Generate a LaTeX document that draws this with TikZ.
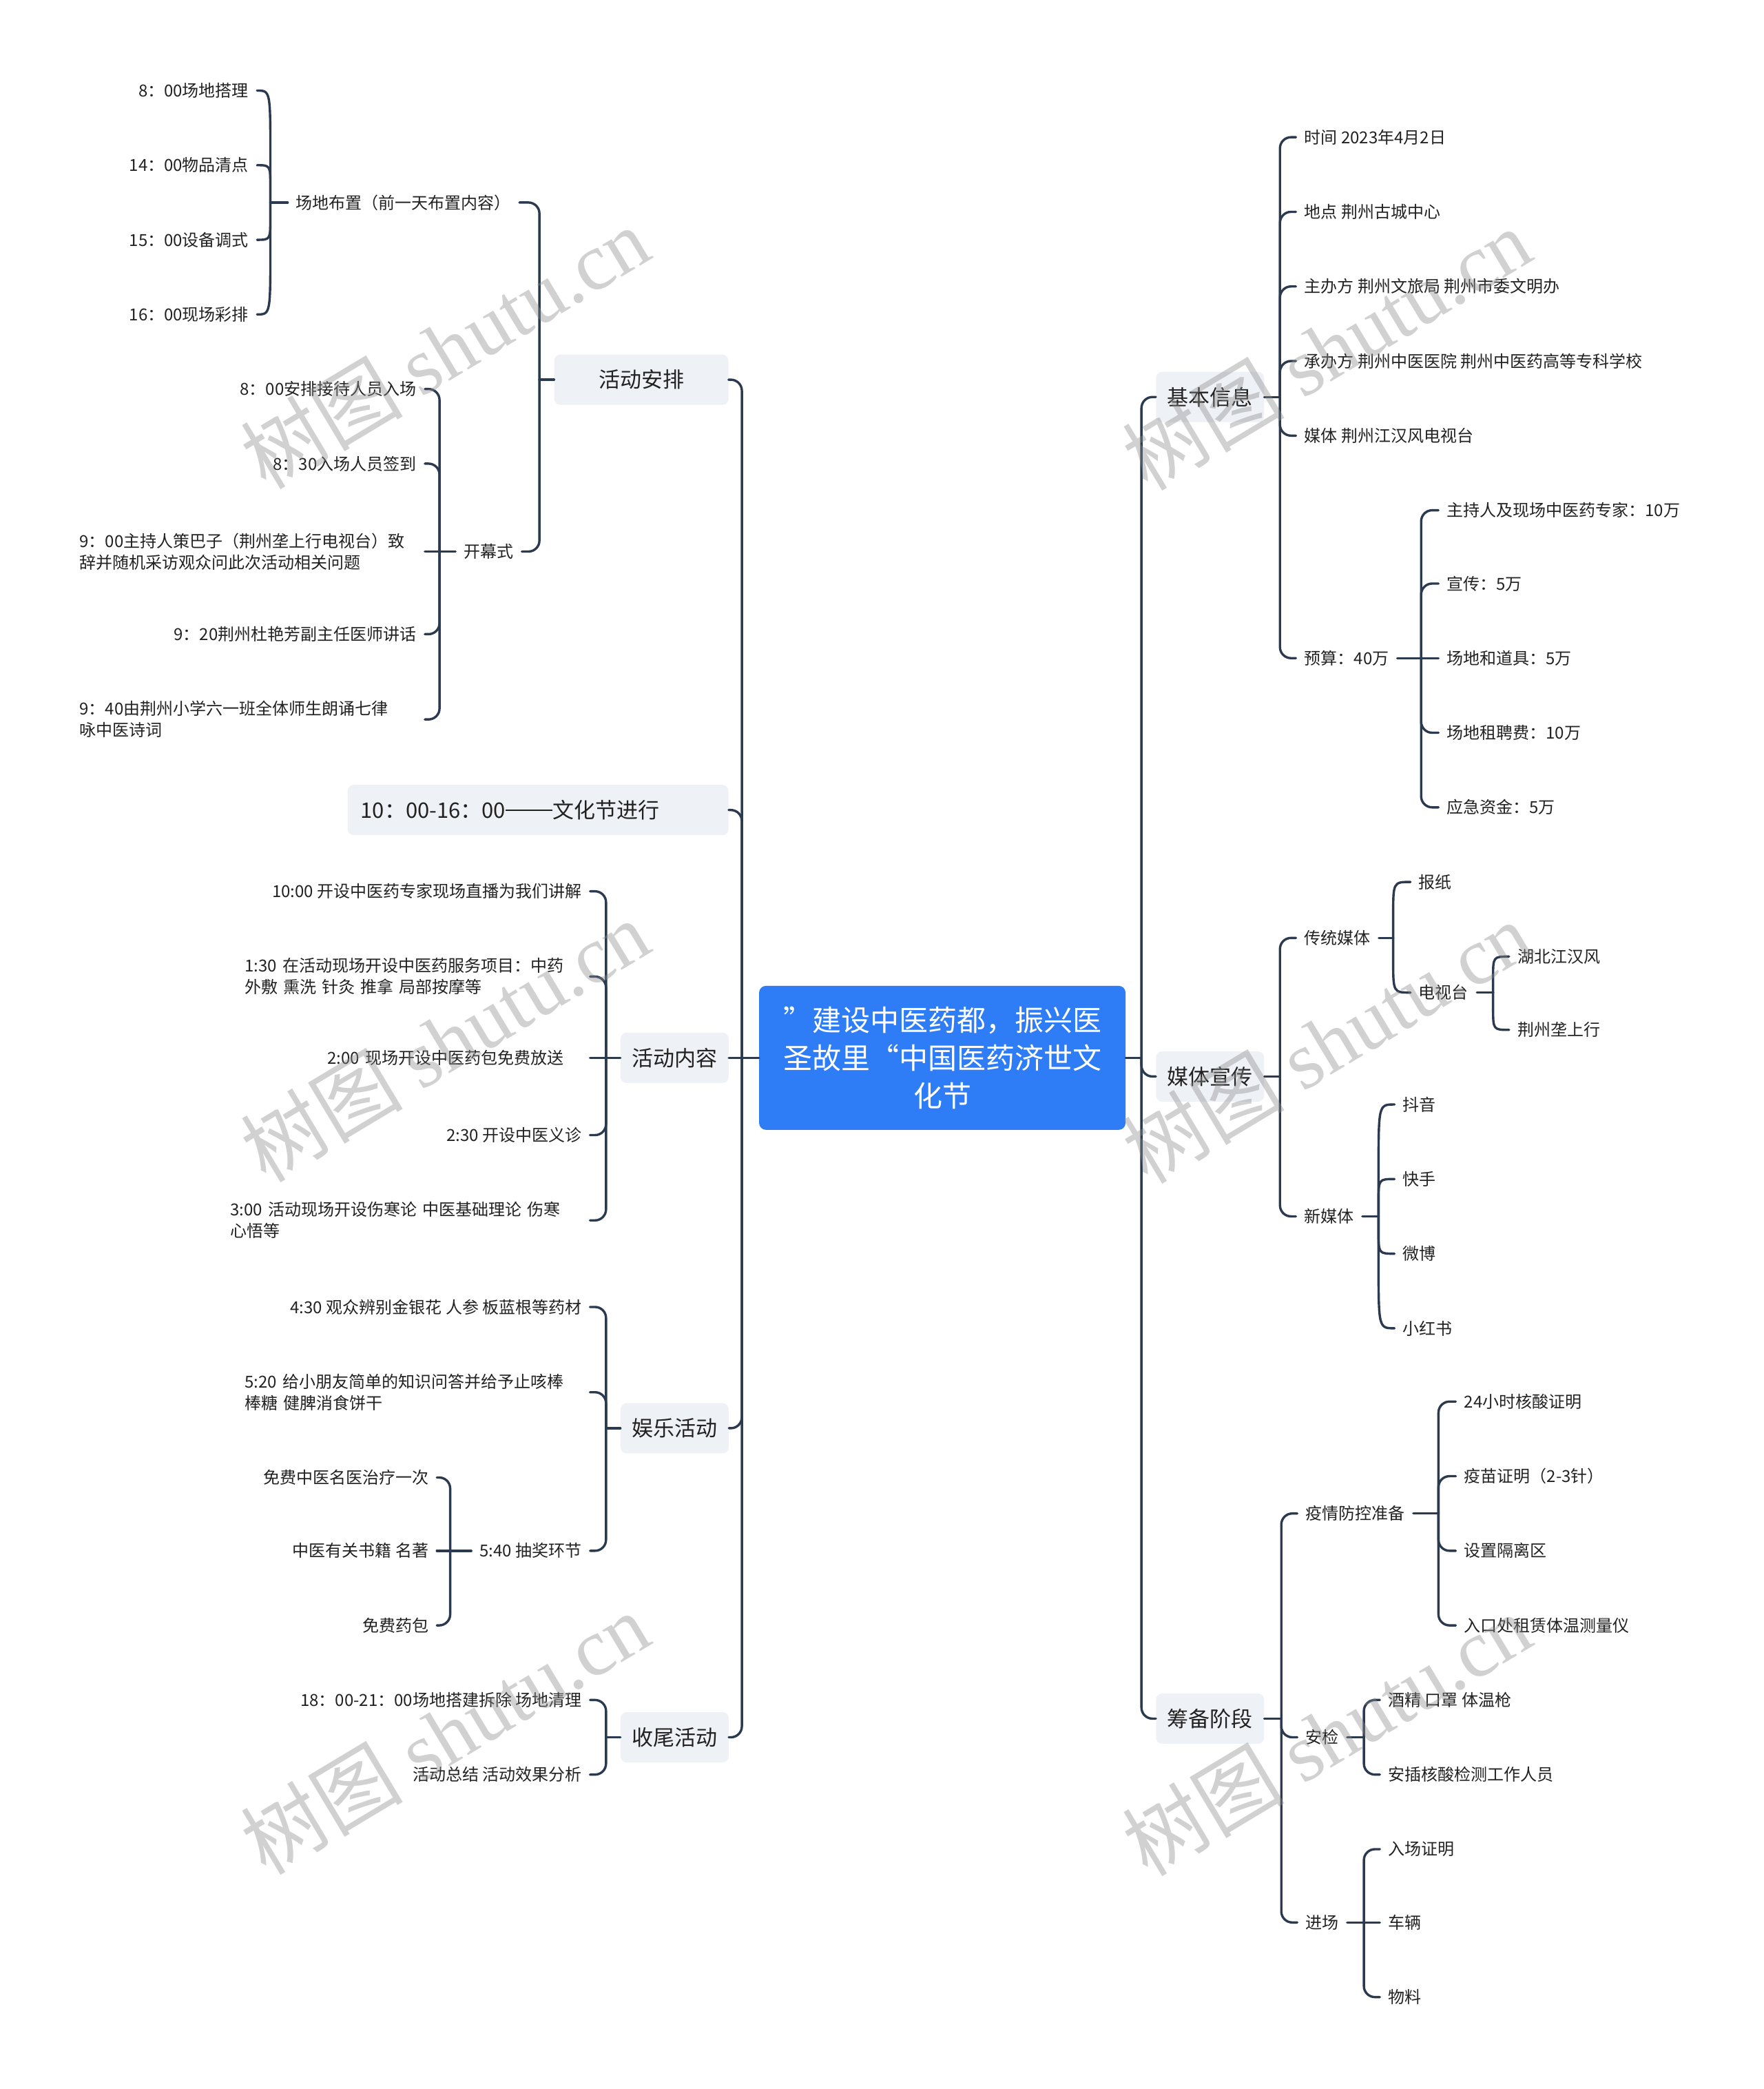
\documentclass[tikz,border=0pt]{standalone}
\usepackage{fontspec}
\usetikzlibrary{calc}
\setmainfont{Noto Sans CJK SC}
\newfontfamily\wmlatin{Liberation Serif}
\newcommand\fsleaf{\fontsize{24}{31}\selectfont}
\newcommand\fsone{\fontsize{31}{38}\selectfont}
\newcommand\fsroot{\fontsize{42}{55}\selectfont}
\newcommand\fswm{\fontsize{118}{130}\selectfont}
\definecolor{linec}{HTML}{2B3A4F}
\definecolor{boxc}{HTML}{EEF1F5}
\definecolor{rootc}{HTML}{2F7DF6}
\definecolor{textc}{HTML}{222222}
\definecolor{wmc}{HTML}{8C8C8C}
\tikzset{
  conn/.style={draw=linec, line width=3.4pt, line cap=round, line join=round},
  rnd/.style={rounded corners=16pt},
  leafbase/.style={inner xsep=12pt, inner ysep=2pt, font=\fsleaf, text=textc},
  leafL/.style={leafbase, anchor=east},
  leafR/.style={leafbase, anchor=west},
  multi/.style={align=left, text width=#1},
  lvone/.style={fill=boxc, rounded corners=9pt, minimum height=73pt, inner xsep=15pt, inner ysep=0pt, font=\fsone, text=textc},
  rootbox/.style={fill=rootc, rounded corners=10pt, minimum width=532pt, minimum height=209pt, text width=480pt, align=center, font=\fsroot, text=white, inner sep=0pt},
  wm/.style={text=wmc, opacity=0.4, rotate=31, font=\fswm, inner sep=0pt}
}
% curly bracket connector: from a junction point (#1) to a node anchor (#2)
\newcommand\curlyconn[2]{%
  \path (#1 |- #2) coordinate (ck);
  \draw[conn] (#1) -- ($(ck)!0.6!(#1)$) .. controls (ck) .. (#2);}
\begin{document}
\begin{tikzpicture}[x=1.9335pt,y=-1.9335pt]
\useasboundingbox (0,0) rectangle (1324,1568);
\fill[white] (0,0) rectangle (1324,1568);

% root
\node[rootbox] (root) at (707.5,794) {\makebox[1em][l]{”}建设中医药都，振兴医\\圣故里\makebox[1em][r]{“}中国医药济世文\\化节};

% level one, left
\node[lvone, minimum width=253pt] (A) at (481.5,285) {活动安排};
\node[lvone, text width=515pt, align=left, inner xsep=19pt] (B) at (404,608) {10：00-16：00\raisebox{0.34em}{\rule{2.2em}{1.6pt}}文化节进行};
\node[lvone, minimum width=157pt] (C) at (506.5,794) {活动内容};
\node[lvone, minimum width=157pt] (D) at (506.5,1072) {娱乐活动};
\node[lvone, minimum width=157pt] (E) at (506.5,1304) {收尾活动};
% level one, right
\node[lvone, minimum width=157pt] (F) at (908.5,298) {基本信息};
\node[lvone, minimum width=157pt] (G) at (908.5,808) {媒体宣传};
\node[lvone, minimum width=157pt] (H) at (908.5,1290) {筹备阶段};

% trunk
\coordinate (tl) at (557,794);
\coordinate (tr) at (857,794);
\draw[conn] (root.west) -- (tl);
\draw[conn] (root.east) -- (tr);
\draw[conn,rnd] (tl) |- (A.east);
\draw[conn,rnd] (tl) |- (B.east);
\draw[conn] (tl) -- (C.east);
\draw[conn,rnd] (tl) |- (D.east);
\draw[conn,rnd] (tl) |- (E.east);
\draw[conn,rnd] (tr) |- (F.west);
\draw[conn,rnd] (tr) |- (G.west);
\draw[conn,rnd] (tr) |- (H.west);

% ---- A: 活动安排
\node[leafR] (A1) at (216,152) {场地布置（前一天布置内容）};
\node[leafR] (A2) at (342,414) {开幕式};
\draw[conn] (A.west) -- (405,285) coordinate (bA);
\draw[conn,rnd] (bA) |- (A1.east);
\draw[conn,rnd] (bA) |- (A2.east);

\node[leafL] (a11) at (193,68) {8：00场地搭理};
\node[leafL] (a12) at (193,124) {14：00物品清点};
\node[leafL] (a13) at (193,180) {15：00设备调式};
\node[leafL] (a14) at (193,236) {16：00现场彩排};
\draw[conn] (A1.west) -- (203,152) coordinate (bA1);
\foreach \n in {a11,a12,a13,a14} {\curlyconn{bA1}{\n.east}}

\node[leafL] (a21) at (319,292) {8：00安排接待人员入场};
\node[leafL] (a22) at (319,348) {8：30入场人员签到};
\node[leafL, multi=489pt] (a23) at (319,414) {9：00主持人策巴子（荆州垄上行电视台）致\\辞并随机采访观众问此次活动相关问题};
\node[leafL] (a24) at (319,476) {9：20荆州杜艳芳副主任医师讲话};
\node[leafL, multi=489pt] (a25) at (319,540) {9：40由荆州小学六一班全体师生朗诵七律\\咏中医诗词};
\draw[conn] (A2.west) -- (330,414) coordinate (bA2);
\draw[conn,rnd] (bA2) |- (a21.east);
\draw[conn,rnd] (bA2) |- (a22.east);
\draw[conn] (bA2) -- (a23.east);
\draw[conn,rnd] (bA2) |- (a24.east);
\draw[conn,rnd] (bA2) |- (a25.east);

% ---- C: 活动内容
\node[leafL] (c1) at (443,669) {10:00 开设中医药专家现场直播为我们讲解};
\node[leafL, multi=489pt] (c2) at (443,733) {1:30~在活动现场开设中医药服务项目：中药\\外敷~熏洗~针灸~推拿~局部按摩等};
\node[leafL, multi=369pt] (c3) at (443,794) {2:00~现场开设中医药包免费放送};
\node[leafL] (c4) at (443,852) {2:30 开设中医义诊};
\node[leafL, multi=510pt] (c5) at (443,916) {3:00~活动现场开设伤寒论~中医基础理论~伤寒\\心悟等};
\draw[conn] (C.west) -- (455,794) coordinate (bC);
\draw[conn,rnd] (bC) |- (c1.east);
\draw[conn,rnd] (bC) |- (c2.east);
\draw[conn] (bC) -- (c3.east);
\draw[conn,rnd] (bC) |- (c4.east);
\draw[conn,rnd] (bC) |- (c5.east);

% ---- D: 娱乐活动
\node[leafL] (d1) at (443,981) {4:30 观众辨别金银花 人参 板蓝根等药材};
\node[leafL, multi=489pt] (d2) at (443,1045) {5:20~给小朋友简单的知识问答并给予止咳棒\\棒糖~健脾消食饼干};
\node[leafL] (d3) at (443,1164) {5:40 抽奖环节};
\draw[conn] (D.west) -- (455,1072) coordinate (bD);
\draw[conn,rnd] (bD) |- (d1.east);
\draw[conn,rnd] (bD) |- (d2.east);
\draw[conn,rnd] (bD) |- (d3.east);

\node[leafL] (d31) at (328,1109) {免费中医名医治疗一次};
\node[leafL] (d32) at (328,1164) {中医有关书籍 名著};
\node[leafL] (d33) at (328,1220) {免费药包};
\draw[conn] (d3.west) -- (338,1164) coordinate (bD3);
\draw[conn,rnd] (bD3) |- (d31.east);
\draw[conn] (bD3) -- (d32.east);
\draw[conn,rnd] (bD3) |- (d33.east);

% ---- E: 收尾活动
\node[leafL] (e1) at (443,1276) {18：00-21：00场地搭建拆除 场地清理};
\node[leafL] (e2) at (443,1332) {活动总结 活动效果分析};
\draw[conn] (E.west) -- (455,1304) coordinate (bE);
\draw[conn,rnd] (bE) |- (e1.east);
\draw[conn,rnd] (bE) |- (e2.east);

% ---- F: 基本信息
\node[leafR] (f1) at (973,103) {时间 2023年4月2日};
\node[leafR] (f2) at (973,159) {地点 荆州古城中心};
\node[leafR] (f3) at (973,215) {主办方 荆州文旅局 荆州市委文明办};
\node[leafR] (f4) at (973,271) {承办方 荆州中医医院 荆州中医药高等专科学校};
\node[leafR] (f5) at (973,327) {媒体 荆州江汉风电视台};
\node[leafR] (f6) at (973,494) {预算：40万};
\draw[conn] (F.east) -- (961,298) coordinate (bF);
\foreach \n in {f1,f2,f3,f4,f5,f6} \draw[conn,rnd] (bF) |- (\n.west);

\node[leafR] (f61) at (1080,383) {主持人及现场中医药专家：10万};
\node[leafR] (f62) at (1080,438) {宣传：5万};
\node[leafR] (f63) at (1080,494) {场地和道具：5万};
\node[leafR] (f64) at (1080,550) {场地租聘费：10万};
\node[leafR] (f65) at (1080,606) {应急资金：5万};
\draw[conn] (f6.east) -- (1067,494) coordinate (bF6);
\draw[conn,rnd] (bF6) |- (f61.west);
\draw[conn,rnd] (bF6) |- (f62.west);
\draw[conn] (bF6) -- (f63.west);
\draw[conn,rnd] (bF6) |- (f64.west);
\draw[conn,rnd] (bF6) |- (f65.west);

% ---- G: 媒体宣传
\node[leafR] (g1) at (973,704) {传统媒体};
\node[leafR] (g2) at (973,913) {新媒体};
\draw[conn] (G.east) -- (961,808) coordinate (bG);
\draw[conn,rnd] (bG) |- (g1.west);
\draw[conn,rnd] (bG) |- (g2.west);

\node[leafR] (g11) at (1059,662) {报纸};
\node[leafR] (g12) at (1059,745) {电视台};
\draw[conn] (g1.east) -- (1046,704) coordinate (bG1);
\curlyconn{bG1}{g11.west}
\curlyconn{bG1}{g12.west}

\node[leafR] (g121) at (1133,718) {湖北江汉风};
\node[leafR] (g122) at (1133,773) {荆州垄上行};
\draw[conn] (g12.east) -- (1121,745) coordinate (bG12);
\curlyconn{bG12}{g121.west}
\curlyconn{bG12}{g122.west}

\node[leafR] (g21) at (1047,829) {抖音};
\node[leafR] (g22) at (1047,885) {快手};
\node[leafR] (g23) at (1047,941) {微博};
\node[leafR] (g24) at (1047,997) {小红书};
\draw[conn] (g2.east) -- (1035,913) coordinate (bG2);
\foreach \n in {g21,g22,g23,g24} {\curlyconn{bG2}{\n.west}}

% ---- H: 筹备阶段
\node[leafR] (h1) at (974,1136) {疫情防控准备};
\node[leafR] (h2) at (974,1304) {安检};
\node[leafR] (h3) at (974,1443) {进场};
\draw[conn] (H.east) -- (962,1290) coordinate (bH);
\draw[conn,rnd] (bH) |- (h1.west);
\draw[conn,rnd] (bH) |- (h2.west);
\draw[conn,rnd] (bH) |- (h3.west);

\node[leafR] (h11) at (1093,1052) {24小时核酸证明};
\node[leafR] (h12) at (1093,1108) {疫苗证明（2-3针）};
\node[leafR] (h13) at (1093,1164) {设置隔离区};
\node[leafR] (h14) at (1093,1220) {入口处租赁体温测量仪};
\draw[conn] (h1.east) -- (1080,1136) coordinate (bH1);
\foreach \n in {h11,h12,h13,h14} \draw[conn,rnd] (bH1) |- (\n.west);

\node[leafR] (h21) at (1036,1276) {酒精 口罩 体温枪};
\node[leafR] (h22) at (1036,1332) {安插核酸检测工作人员};
\draw[conn] (h2.east) -- (1024,1304) coordinate (bH2);
\draw[conn,rnd] (bH2) |- (h21.west);
\draw[conn,rnd] (bH2) |- (h22.west);

\node[leafR] (h31) at (1036,1388) {入场证明};
\node[leafR] (h32) at (1036,1443) {车辆};
\node[leafR] (h33) at (1036,1499) {物料};
\draw[conn] (h3.east) -- (1024,1443) coordinate (bH3);
\draw[conn,rnd] (bH3) |- (h31.west);
\draw[conn] (bH3) -- (h32.west);
\draw[conn,rnd] (bH3) |- (h33.west);

% watermarks
\foreach \wx/\wy [count=\k] in {334/261, 334/781, 334/1301, 996/262, 996/782, 996/1302}
  \node[wm] (wm\k) at (\wx,\wy) {树图 {\wmlatin shutu.cn}};
\end{tikzpicture}
\end{document}
